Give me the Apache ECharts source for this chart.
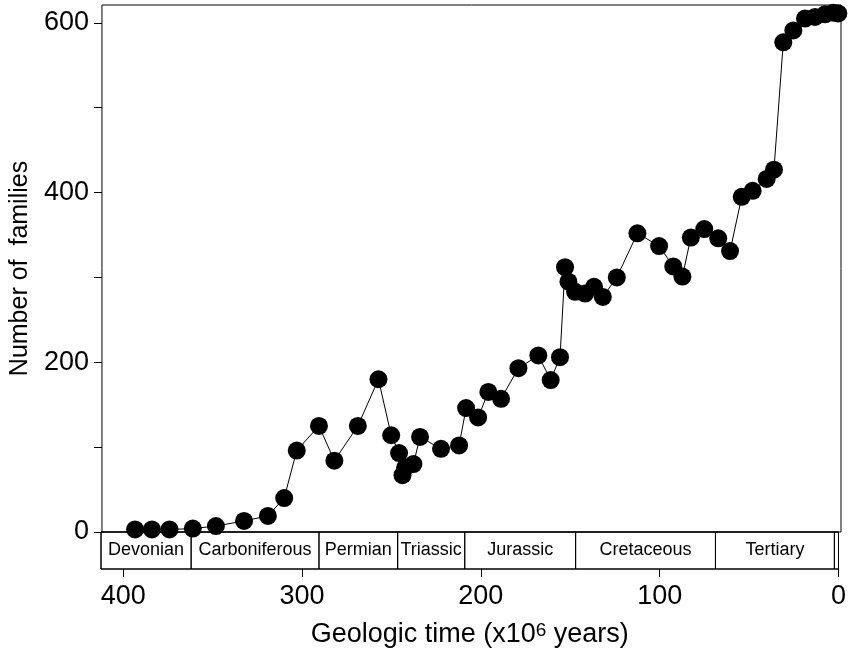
<!DOCTYPE html>
<html>
<head>
<meta charset="utf-8">
<script src="https://cdn.jsdelivr.net/npm/echarts@6/dist/echarts.min.js"></script>
<style>
  html, body { margin: 0; padding: 0; background: #fff; }
  #main { width: 849px; height: 654px; }
</style>
</head>
<body>
<div id="main"></div>
<script>
// 时间 (百万年前)
var ageMa = [
  393.9, 384.5, 374.7, 361.7, 348.8, 333.1, 319.8, 310.7, 303.7, 291.3,
  282.7, 269.6, 258.1, 251.0, 246.6, 244.7, 243.2, 238.6, 234.9, 223.2,
  213.1, 209.2, 202.5, 196.8, 189.7, 180.0, 168.9, 162.0, 156.8, 154.0,
  152.1, 148.4, 142.8, 137.8, 132.9, 125.1, 113.6, 101.5, 93.6, 88.5,
  83.8, 76.3, 68.5, 61.9, 55.4, 49.3, 41.5, 37.4, 32.2, 26.6,
  20.1, 14.5, 8.9, 4.3, 1.5
];
// 科的数量
var families = [
  3, 3, 3, 4, 7, 13, 19, 40, 96, 125,
  84, 125, 180, 114, 93, 67, 76, 80, 112, 98,
  102, 146, 135, 165, 157, 193, 208, 179, 206, 312,
  295, 283, 281, 289, 277, 300, 352, 337, 313, 301,
  347, 357, 346, 331, 395, 402, 416, 427, 577, 591,
  605, 607, 610, 612, 611
];
// 地质年代
var periodNames = ['Devonian', 'Carboniferous', 'Permian', 'Triassic', 'Jurassic', 'Cretaceous', 'Tertiary', ''];
var periodStart = [412.4, 362, 290.5, 246.5, 209, 147, 68.8, 2.3];
var periodEnd = [362, 290.5, 246.5, 209, 147, 68.8, 2.3, 0];

var yTicks = [0, 100, 200, 300, 400, 500, 600];
var yLabels = [0, 200, 400, 600];
var xTicks = [0, 100, 200, 300, 400];

var chart = echarts.init(document.getElementById('main'));

var points = [];
ageMa.forEach(function (t, i) {
  points.push([t, families[i]]);
});

var areas = [];
periodNames.forEach(function (name, i) {
  areas.push([{ name: name, xAxis: periodStart[i] }, { xAxis: periodEnd[i] }]);
});

var option = {
  animation: false,
  backgroundColor: '#fff',
  textStyle: { fontFamily: 'Liberation Sans', color: '#000' },
  grid: [
    { left: 101, right: 8, top: 5, height: 527, show: true, borderColor: '#000', borderWidth: 1, backgroundColor: 'transparent' },
    { left: 101, right: 8, top: 532, height: 37, show: true, borderColor: '#000', borderWidth: 1, backgroundColor: 'transparent' }
  ],
  xAxis: [
    { gridIndex: 0, type: 'value', inverse: true, min: 0, max: 412.4, show: false },
    {
      gridIndex: 1, type: 'value', inverse: true, min: 0, max: 412.4,
      axisLine: { show: false, onZero: false },
      axisTick: { show: true, length: 8, customValues: xTicks, lineStyle: { color: '#000' } },
      axisLabel: { customValues: xTicks, fontSize: 27, color: '#000', margin: 14 },
      splitLine: { show: false },
      name: 'Geologic time (x10{sup|6} years)',
      nameLocation: 'middle',
      nameGap: 52,
      nameTextStyle: {
        fontSize: 27, color: '#000',
        rich: { sup: { fontSize: 19, color: '#000', verticalAlign: 'top', fontFamily: 'Liberation Sans' } }
      }
    }
  ],
  yAxis: [
    {
      gridIndex: 0, type: 'value', min: 0, max: 621,
      axisLine: { show: false, onZero: false },
      axisTick: { show: true, length: 8, customValues: yTicks, lineStyle: { color: '#000' } },
      axisLabel: { customValues: yLabels, fontSize: 27, color: '#000', margin: 13 },
      splitLine: { show: false },
      name: 'Number of  families',
      nameLocation: 'middle',
      nameGap: 59,
      nameTextStyle: { fontSize: 25, color: '#000' }
    },
    { gridIndex: 1, type: 'value', min: 0, max: 1, show: false }
  ],
  series: [
    {
      type: 'line',
      xAxisIndex: 0,
      yAxisIndex: 0,
      data: points,
      symbol: 'circle',
      symbolSize: 18,
      itemStyle: { color: '#000' },
      lineStyle: { color: '#000', width: 1 },
      clip: false
    },
    {
      type: 'line',
      xAxisIndex: 1,
      yAxisIndex: 1,
      data: [],
      markArea: {
        silent: true,
        itemStyle: { color: 'transparent', borderColor: '#000', borderWidth: 1 },
        label: { show: true, position: 'inside', fontSize: 18, color: '#000' },
        data: areas
      }
    }
  ]
};

chart.setOption(option);
</script>
</body>
</html>
